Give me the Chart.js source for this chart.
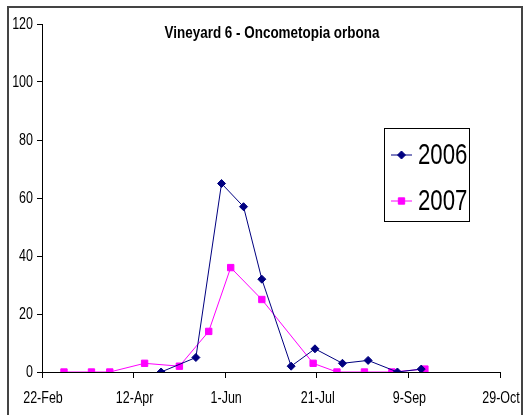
<!DOCTYPE html>
<html>
<head>
<meta charset="utf-8">
<script src="https://cdn.jsdelivr.net/npm/chart.js@4.4.1/dist/chart.umd.min.js"></script>
<style>
  html, body { margin: 0; padding: 0; background: #fff; }
  #wrap { position: relative; width: 526px; height: 415px; }
</style>
</head>
<body>
<div id="wrap"><canvas id="c" width="526" height="415"></canvas></div>
<script>
// x values are days since 22-Feb
const xTickLabels = ['22-Feb', '12-Apr', '1-Jun', '21-Jul', '9-Sep', '29-Oct'];
const days2006 = [65, 84, 98, 110, 120, 136, 149, 164, 178, 194, 207];
const vals2006 = [0, 5, 65, 57, 32, 2, 8, 3, 4, 0, 1];
const days2007 = [12, 27, 37, 56, 75, 91, 103, 120, 148, 161, 176, 191, 209];
const vals2007 = [0, 0, 0, 3, 2, 14, 36, 25, 3, 0, 0, 0, 1];
const seriesLabels = ['2006', '2007'];
const chartTitle = 'Vineyard 6 - Oncometopia orbona';

const FONT = "'Liberation Sans', Arial, sans-serif";
const SQUEEZE = 0.78;

const toPoints = (xs, ys) => xs.map((x, i) => ({ x: x, y: ys[i] }));

function squeezedText(ctx, text, x, y, font, align, sx) {
  ctx.save();
  ctx.font = font;
  ctx.textAlign = align;
  ctx.textBaseline = 'middle';
  ctx.translate(x, y);
  ctx.scale(sx, 1);
  ctx.fillText(text, 0, 0);
  ctx.restore();
}

const decorPlugin = {
  id: 'decor',
  beforeDraw(chart) {
    const ctx = chart.ctx;
    ctx.save();
    ctx.fillStyle = '#fff';
    ctx.fillRect(0, 0, chart.width, chart.height);
    ctx.strokeStyle = '#444';
    ctx.lineWidth = 2;
    ctx.strokeRect(8, 7, 514, 430);
    ctx.restore();
  },
  afterDraw(chart) {
    const ctx = chart.ctx;
    ctx.save();
    ctx.fillStyle = '#000';
    // tick labels (narrow, drawn at the library's tick positions)
    const xs = chart.scales.x, ys = chart.scales.y;
    xs.ticks.forEach((t, i) => {
      const px = xs.getPixelForValue(t.value);
      squeezedText(ctx, xTickLabels[i], px + 1, 399, "16px " + FONT, 'center', SQUEEZE);
    });
    ys.ticks.forEach((t) => {
      const py = ys.getPixelForValue(t.value);
      squeezedText(ctx, String(t.value), 33, py + 1, "16px " + FONT, 'right', SQUEEZE);
    });
    // title
    squeezedText(ctx, chartTitle, 272, 34, "bold 16px " + FONT, 'center', 0.84);
    // legend
    ctx.strokeStyle = '#000';
    ctx.lineWidth = 1;
    ctx.strokeRect(384.5, 128.5, 85, 93);
    const rows = [155, 201];
    chart.data.datasets.forEach((ds, i) => {
      const y = rows[i];
      ctx.strokeStyle = ds.borderColor;
      ctx.lineWidth = 1;
      ctx.beginPath();
      ctx.moveTo(391, y);
      ctx.lineTo(412, y);
      ctx.stroke();
      ctx.fillStyle = ds.pointBackgroundColor;
      Chart.helpers.drawPoint(ctx, {
        pointStyle: ds.pointStyle, radius: ds.pointRadius, borderWidth: 1, rotation: 0
      }, 401.5, y);
      ctx.fillStyle = '#000';
      squeezedText(ctx, ds.label, 418, y + 1, "30px " + FONT, 'left', 0.74);
    });
    ctx.restore();
  }
};

new Chart(document.getElementById('c'), {
  type: 'line',
  data: {
    datasets: [
      {
        label: seriesLabels[0],
        data: toPoints(days2006, vals2006),
        borderColor: '#000080',
        backgroundColor: '#000080',
        pointBackgroundColor: '#000080',
        pointBorderColor: '#000080',
        pointStyle: 'rectRot',
        pointRadius: 4,
        borderWidth: 1,
        tension: 0
      },
      {
        label: seriesLabels[1],
        data: toPoints(days2007, vals2007),
        borderColor: '#FF00FF',
        backgroundColor: '#FF00FF',
        pointBackgroundColor: '#FF00FF',
        pointBorderColor: '#FF00FF',
        pointStyle: 'rect',
        pointRadius: 4.5,
        borderWidth: 1,
        tension: 0
      }
    ]
  },
  options: {
    responsive: false,
    animation: false,
    events: [],
    layout: { padding: { left: 0, top: 24, right: 26, bottom: 0 }, autoPadding: false },
    plugins: { legend: { display: false }, title: { display: false }, tooltip: { enabled: false } },
    scales: {
      x: {
        type: 'linear', min: 0, max: 250,
        afterBuildTicks(s) { s.ticks = xTickLabels.map((_, i) => ({ value: i * 50 })); },
        ticks: { display: false },
        grid: { drawOnChartArea: false, drawTicks: true, tickLength: 6, color: '#000' },
        border: { color: '#000', width: 1 },
        afterFit(s) { s.height = 415 - 372; }
      },
      y: {
        min: 0, max: 120,
        ticks: { stepSize: 20, display: false },
        grid: { drawOnChartArea: false, drawTicks: true, tickLength: 5, color: '#000' },
        border: { color: '#000', width: 1 },
        afterFit(s) { s.width = 42; }
      }
    }
  },
  plugins: [decorPlugin]
});
</script>
</body>
</html>
